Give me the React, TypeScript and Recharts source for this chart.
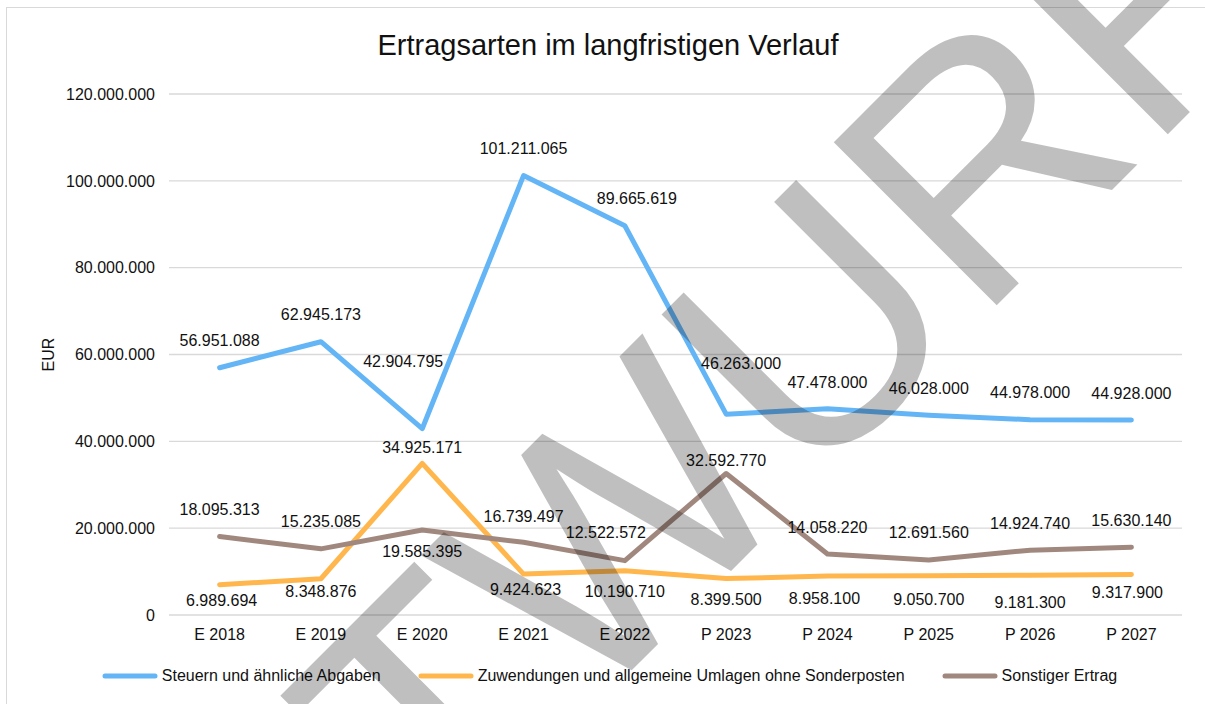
import { LineChart, Line, XAxis, YAxis, CartesianGrid, Legend, LabelList } from 'recharts';

// Haushaltsjahre (E = Ergebnis, P = Plan)
const years = ['E 2018', 'E 2019', 'E 2020', 'E 2021', 'E 2022', 'P 2023', 'P 2024', 'P 2025', 'P 2026', 'P 2027'];

const steuern = [56951088, 62945173, 42904795, 101211065, 89665619, 46263000, 47478000, 46028000, 44978000, 44928000];
const zuwendungen = [6989694, 8348876, 34925171, 9424623, 10190710, 8399500, 8958100, 9050700, 9181300, 9317900];
const sonstiger = [18095313, 15235085, 19585395, 16739497, 12522572, 32592770, 14058220, 12691560, 14924740, 15630140];

const yTicks = [0, 20000000, 40000000, 60000000, 80000000, 100000000, 120000000];

// label offsets relative to each point (px)
const steuernDx = [0, 0, -19, 0, 12, 15, 0, 0, 0, 0];
const steuernDy = [-27, -27, -67, -27, -27, -51, -26, -27, -27, -26];
const zuwDx = [2, 0, 0, 2, 0, 0, -3, 0, 0, -4];
const zuwDy = [16, 13, -16, 15, 21, 21, 22, 24, 27, 18];
const sonstDx = [0, 0, 0, 0, -19, 0, 0, 0, 0, 0];
const sonstDy = [-27, -27, 22, -26, -28, -13, -26, -27, -27, -27];

const FONT = '"Liberation Sans", Arial, sans-serif';
const BLUE = '#64b5f6';
const ORANGE = '#ffb74d';
const BROWN = '#a1887f';

const fmt = (v: number) => String(v).replace(/\B(?=(\d{3})+(?!\d))/g, '.');

const data = years.map((y, i) => ({
  year: y,
  steuern: steuern[i],
  zuwendungen: zuwendungen[i],
  sonstiger: sonstiger[i],
}));

const series = [
  { key: 'steuern', name: 'Steuern und ähnliche Abgaben', color: BLUE, dx: steuernDx, dy: steuernDy },
  { key: 'zuwendungen', name: 'Zuwendungen und allgemeine Umlagen ohne Sonderposten', color: ORANGE, dx: zuwDx, dy: zuwDy },
  { key: 'sonstiger', name: 'Sonstiger Ertrag', color: BROWN, dx: sonstDx, dy: sonstDy },
];

function makeLabel(dx: number[], dy: number[]) {
  return (props: any) => {
    const { x, y, value, index } = props;
    return (
      <text
        x={x + dx[index]}
        y={y + dy[index]}
        textAnchor="middle"
        dominantBaseline="central"
        fontSize={16}
        fontFamily={FONT}
        fill="#111"
      >
        {fmt(value)}
      </text>
    );
  };
}

function LegendContent() {
  return (
    <div style={{ display: 'flex', justifyContent: 'center', alignItems: 'center', height: 18, marginTop: 22, paddingLeft: 30, fontFamily: FONT, fontSize: 16, color: '#111' }}>
      {series.map((s, i) => (
        <div key={s.key} style={{ display: 'flex', alignItems: 'center', marginLeft: i === 0 ? 0 : 37 }}>
          <svg width={56} height={8} style={{ marginRight: 4 }}>
            <line x1={3} y1={4} x2={53} y2={4} stroke={s.color} strokeWidth={5} strokeLinecap="round" />
          </svg>
          <span>{s.name}</span>
        </div>
      ))}
    </div>
  );
}

export default function App() {
  return (
    <div style={{ position: 'absolute', left: 0, top: 0, width: 1205, height: 704, overflow: 'hidden', background: '#fff', fontFamily: FONT }}>
      <div style={{ position: 'absolute', left: 6, top: 7, width: 1220, height: 720, border: '1px solid #d9d9d9' }} />
      <div style={{ position: 'absolute', left: 0, width: 1216, top: 29, textAlign: 'center', fontSize: 29, color: '#111' }}>
        Ertragsarten im langfristigen Verlauf
      </div>
      <div style={{ position: 'absolute', left: 7, top: 8 }}>
        <LineChart width={1190} height={696} data={data} margin={{ top: 86, right: 15, bottom: 19, left: 0 }}>
          <CartesianGrid vertical={false} stroke="#d9d9d9" strokeWidth={1.3} />
          <XAxis
            dataKey="year"
            axisLine={false}
            tickLine={false}
            tickMargin={8}
            height={30}
            padding={{ left: 50.6, right: 50.6 }}
            tick={{ fontSize: 16, fill: '#111', fontFamily: FONT }}
          />
          <YAxis
            width={162}
            domain={[0, 120000000]}
            ticks={yTicks}
            axisLine={false}
            tickLine={false}
            tickMargin={8}
            tickFormatter={fmt}
            tick={{ fontSize: 16, fill: '#111', fontFamily: FONT }}
            label={{ value: 'EUR', angle: -90, position: 'insideLeft', offset: 41, style: { textAnchor: 'middle', fontSize: 16, fill: '#111', fontFamily: FONT } }}
          />
          <Legend verticalAlign="bottom" height={40} content={<LegendContent />} />
          {series.map((s) => (
            <Line
              key={s.key}
              dataKey={s.key}
              name={s.name}
              type="linear"
              stroke={s.color}
              strokeWidth={5}
              strokeLinecap="round"
              strokeLinejoin="round"
              dot={false}
              activeDot={false}
              isAnimationActive={false}
            >
              <LabelList dataKey={s.key} content={makeLabel(s.dx, s.dy)} />
            </Line>
          ))}
        </LineChart>
      </div>
      <svg width={1205} height={704} style={{ position: 'absolute', left: 0, top: 0, pointerEvents: 'none' }}>
        <text
          x={701}
          y={601}
          transform="rotate(-45 701 601)"
          textAnchor="middle"
          fontSize={335}
          fontFamily={FONT}
          fill="#000"
          fillOpacity={0.25}
        >
          ENTWURF
        </text>
      </svg>
    </div>
  );
}
